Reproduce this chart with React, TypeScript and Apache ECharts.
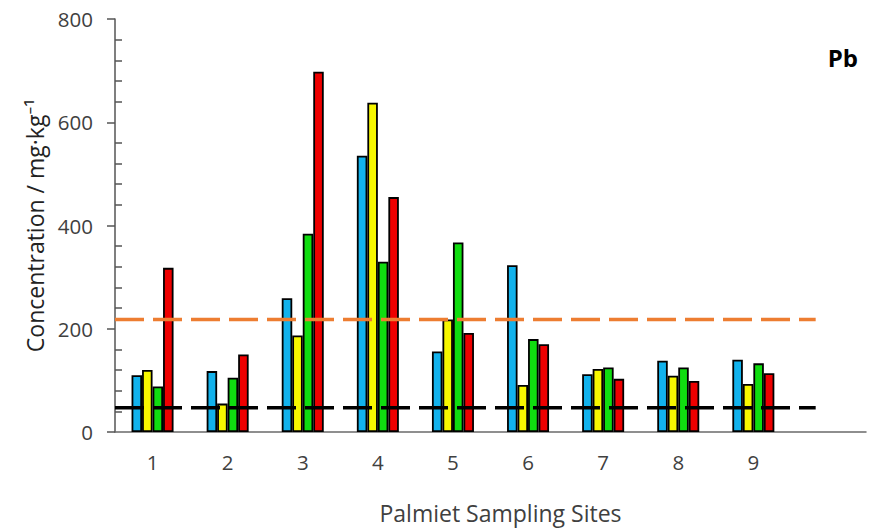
import React, { useEffect, useRef } from "react";
import * as echarts from "echarts";

const sites = ["1", "2", "3", "4", "5", "6", "7", "8", "9", ""];
const seriesNames = ["Sampling 1", "Sampling 2", "Sampling 3", "Sampling 4"];
const blueVals = [110, 118, 259, 535, 156, 323, 112, 138, 140];
const yellowVals = [120, 55, 187, 638, 218, 91, 122, 109, 93];
const greenVals = [88, 105, 384, 330, 367, 180, 125, 125, 133];
const redVals = [318, 150, 698, 455, 192, 170, 103, 99, 114];
const barColors = ["#12B2EC", "#F7F700", "#10DD10", "#EE0000"];
const orangeLevel = 218;
const blackLevel = 47;
const lineExtent = [0, 9.33];
const yTicks = { min: 0, max: 800, interval: 200 };

export default function App() {
  const ref = useRef<HTMLDivElement>(null);
  useEffect(() => {
    const chart = echarts.init(ref.current!, null, { renderer: "svg" });
    const font = "'Open Sans', 'Noto Sans', sans-serif";
    const barData = [blueVals, yellowVals, greenVals, redVals];
    const bars = barData.map((vals, i) => ({
      name: seriesNames[i],
      type: "bar",
      data: vals,
      barWidth: 10.5,
      barGap: "0%",
      xAxisIndex: 0,
      yAxisIndex: 0,
      itemStyle: { color: barColors[i], borderColor: "#000", borderWidth: 1.8 },
      z: 2,
    }));
    const mkLine = (level: number, color: string) => ({
      type: "line",
      xAxisIndex: 1,
      yAxisIndex: 0,
      symbol: "none",
      data: [
        [lineExtent[0], level],
        [lineExtent[1], level],
      ],
      lineStyle: { color, width: 3.5, type: [29, 9] },
      z: 5,
    });
    chart.setOption({
      animation: false,
      textStyle: { fontFamily: font },
      grid: { left: 115, right: 3, top: 19, bottom: 100 },
      xAxis: [
        {
          type: "category",
          data: sites,
          axisLine: { lineStyle: { color: "#6a6a6a", width: 1.5 } },
          axisTick: { show: false },
          axisLabel: { fontSize: 20.5, color: "#404040", margin: 19, fontFamily: font },
          name: "Palmiet Sampling Sites",
          nameLocation: "middle",
          nameGap: 69,
          nameTextStyle: { fontSize: 23, color: "#404040", fontFamily: font, padding: [0, 0, 0, 20] },
        },
        { type: "value", min: 0, max: 10, show: false },
      ],
      yAxis: [
        {
          type: "value",
          min: yTicks.min,
          max: yTicks.max,
          interval: yTicks.interval,
          axisLine: { show: true, lineStyle: { color: "#555", width: 1.5 } },
          axisTick: { show: true, length: 8, lineStyle: { color: "#555", width: 1.5 } },
          splitLine: { show: false },
          axisLabel: { fontSize: 20.5, color: "#404040", margin: 22, fontFamily: font },
          name: "Concentration / mg·kg⁻¹",
          nameLocation: "middle",
          nameGap: 68,
          nameTextStyle: { fontSize: 23, color: "#222", fontFamily: font },
        },
        {
          type: "value",
          min: yTicks.min,
          max: yTicks.max,
          interval: yTicks.interval,
          position: "left",
          axisLine: { show: false },
          axisTick: { show: false, inside: true },
          minorTick: { show: true, splitNumber: 5, length: 7, lineStyle: { color: "#555", width: 1.5 } },
          axisLabel: { show: false },
          splitLine: { show: false },
        },
      ],
      graphic: [
        {
          type: "text",
          right: 11,
          top: 45,
          style: { text: "Pb", fontSize: 24, fontWeight: "bold", fill: "#000", fontFamily: font },
        },
      ],
      series: [...bars, mkLine(orangeLevel, "#ED7D31"), mkLine(blackLevel, "#000")],
    });
    return () => chart.dispose();
  }, []);
  return (
    <div
      ref={ref}
      style={{ position: "absolute", left: 0, top: 0, width: 869, height: 532 }}
    />
  );
}
